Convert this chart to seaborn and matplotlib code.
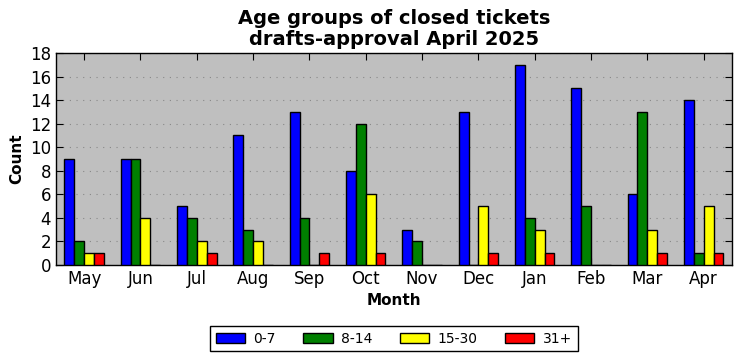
import matplotlib
matplotlib.use("Agg")
import matplotlib.pyplot as plt
import pandas as pd
import seaborn as sns

# Ticket counts per month and age group
months = ["May", "Jun", "Jul", "Aug", "Sep", "Oct", "Nov", "Dec", "Jan", "Feb", "Mar", "Apr"]
age_groups = ["0-7", "8-14", "15-30", "31+"]
count_0_7 = [9, 9, 5, 11, 13, 8, 3, 13, 17, 15, 6, 14]
count_8_14 = [2, 9, 4, 3, 4, 12, 2, 0, 4, 5, 13, 1]
count_15_30 = [1, 4, 2, 2, 0, 6, 0, 5, 3, 0, 3, 5]
count_31_plus = [1, 0, 1, 0, 1, 1, 0, 1, 1, 0, 1, 1]
colors = ["blue", "green", "yellow", "red"]

series = [count_0_7, count_8_14, count_15_30, count_31_plus]
rows = []
for group, values in zip(age_groups, series):
    for m, v in zip(months, values):
        rows.append({"Month": m, "Count": v, "Age": group})
df = pd.DataFrame(rows)

plt.rcParams["font.family"] = "DejaVu Sans"
fig = plt.figure(figsize=(7.41, 3.61), dpi=100)
ax = fig.add_axes([0.0756, 0.266, 0.912, 0.587])
ax.set_facecolor("#bfbfbf")

sns.barplot(data=df, x="Month", y="Count", hue="Age", order=months, hue_order=age_groups,
            palette=colors, saturation=1, width=0.7, edgecolor="black", linewidth=1,
            ax=ax, zorder=3)

ax.set_ylim(0, 18)
ax.set_yticks(range(0, 19, 2))
ax.yaxis.grid(True, linestyle=(0, (1, 5)), color="#888888", linewidth=0.8, zorder=0)
ax.set_axisbelow(True)
ax.tick_params(direction="in", top=True, right=True, labelsize=12, length=5)
for s in ax.spines.values():
    s.set_color("black")
    s.set_linewidth(1)

ax.set_title("Age groups of closed tickets\ndrafts-approval April 2025", fontsize=14,
             fontweight="bold", linespacing=1.1)
ax.set_xlabel("Month", fontsize=11, fontweight="bold")
ax.set_ylabel("Count", fontsize=11, fontweight="bold")

ax.legend(loc="upper center", bbox_to_anchor=(0.5, -0.255), ncol=4, fontsize=10,
          fancybox=False, edgecolor="black", framealpha=1, columnspacing=2.0,
          handlelength=2.1, handletextpad=0.6, borderpad=0.4)

fig.savefig("out.png", dpi=100)
